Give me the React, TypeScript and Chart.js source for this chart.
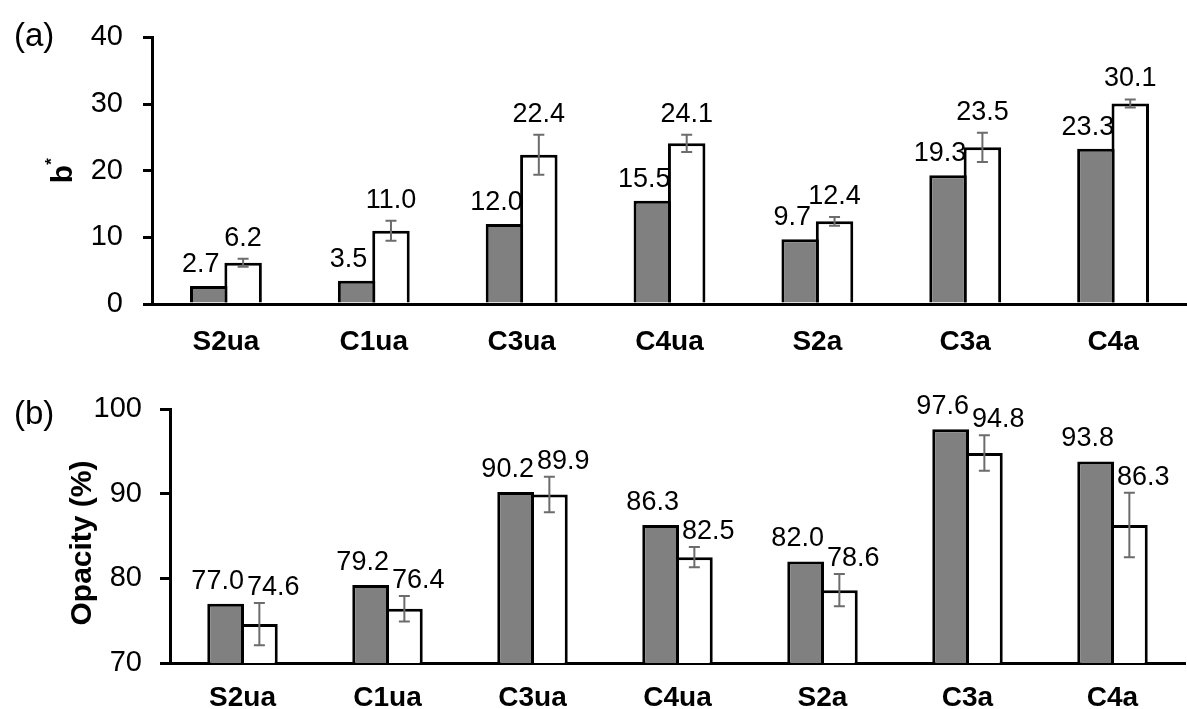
import { useEffect, useRef } from "react";
import { Chart, registerables } from "chart.js";

Chart.register(...registerables);

const FONT = "'Liberation Sans', Arial, sans-serif";

// Sample groups shown on both panels
const categories = ["S2ua", "C1ua", "C3ua", "C4ua", "S2a", "C3a", "C4a"];

// (a) b* colour coordinate
const bGray = [2.7, 3.5, 12.0, 15.5, 9.7, 19.3, 23.3];
const bWhite = [6.2, 11.0, 22.4, 24.1, 12.4, 23.5, 30.1];
const bWhiteErr = [0.6, 1.5, 3.0, 1.3, 0.65, 2.2, 0.6];
const bTicks = [0, 10, 20, 30, 40];

// (b) Opacity (%)
const opGray = [77.0, 79.2, 90.2, 86.3, 82.0, 97.6, 93.8];
const opWhite = [74.6, 76.4, 89.9, 82.5, 78.6, 94.8, 86.3];
const opWhiteErr = [2.5, 1.5, 2.1, 1.2, 1.9, 2.1, 3.8];
const opTicks = [70, 80, 90, 100];

type PanelProps = {
  width: number;
  height: number;
  letter: string;
  letterY: number;
  title: string;
  titleSup?: string;
  titleX: number;
  titleDy: number;
  gray: number[];
  white: number[];
  whiteErr: number[];
  ticks: number[];
  padTop: number;
  padRight: number;
  axisWidth: number;
  xAxisHeight: number;
  tickLen: number;
  tickPad: number;
  labelPad: number;
  grayShift: number;
  whiteShift: number;
  grayGap: number;
  whiteGap: number;
};

function Panel(p: PanelProps) {
  const ref = useRef<HTMLCanvasElement | null>(null);

  useEffect(() => {
    if (!ref.current) return;

    // error bars on the white series and value labels above every bar
    const decor = {
      id: "barDecor",
      afterDatasetsDraw(chart: any) {
        const ctx = chart.ctx;
        const y = chart.scales.y;
        const gMeta = chart.getDatasetMeta(0);
        const wMeta = chart.getDatasetMeta(1);
        ctx.save();
        ctx.strokeStyle = "#6c6c6c";
        ctx.lineWidth = 2;
        wMeta.data.forEach((bar: any, i: number) => {
          const v = p.white[i];
          const top = y.getPixelForValue(v + p.whiteErr[i]);
          const bot = y.getPixelForValue(v - p.whiteErr[i]);
          const x = bar.x;
          ctx.beginPath();
          ctx.moveTo(x, top);
          ctx.lineTo(x, bot);
          ctx.moveTo(x - 5.5, top);
          ctx.lineTo(x + 5.5, top);
          ctx.moveTo(x - 5.5, bot);
          ctx.lineTo(x + 5.5, bot);
          ctx.stroke();
        });
        ctx.font = `27px ${FONT}`;
        ctx.fillStyle = "#000";
        ctx.textAlign = "center";
        ctx.textBaseline = "alphabetic";
        gMeta.data.forEach((bar: any, i: number) => {
          ctx.fillText(p.gray[i].toFixed(1), bar.x + p.grayShift, bar.y - p.grayGap);
        });
        wMeta.data.forEach((bar: any, i: number) => {
          const v = p.white[i];
          ctx.fillText(
            v.toFixed(1),
            bar.x + p.whiteShift,
            y.getPixelForValue(v + p.whiteErr[i]) - p.whiteGap
          );
        });
        ctx.restore();
      },
      afterDraw(chart: any) {
        const ctx = chart.ctx;
        const area = chart.chartArea;
        ctx.save();
        ctx.fillStyle = "#000";
        ctx.font = `33px ${FONT}`;
        ctx.textAlign = "left";
        ctx.textBaseline = "middle";
        ctx.fillText(p.letter, 14, p.letterY);

        // rotated axis title, optionally with a superscript
        ctx.translate(p.titleX, (area.top + area.bottom) / 2 + p.titleDy);
        ctx.rotate(-Math.PI / 2);
        ctx.textBaseline = "middle";
        ctx.font = `bold 30px ${FONT}`;
        const w = ctx.measureText(p.title).width;
        let supW = 0;
        if (p.titleSup) {
          ctx.font = `bold 17px ${FONT}`;
          supW = ctx.measureText(p.titleSup).width;
        }
        const start = -(w + supW) / 2;
        ctx.font = `bold 30px ${FONT}`;
        ctx.textAlign = "left";
        ctx.fillText(p.title, start, 0);
        if (p.titleSup) {
          ctx.font = `bold 17px ${FONT}`;
          ctx.fillText(p.titleSup, start + w, -12);
        }
        ctx.restore();
      },
    };

    const chart = new Chart(ref.current, {
      type: "bar",
      data: {
        labels: categories,
        datasets: [
          {
            data: p.gray,
            backgroundColor: "#808080",
            borderColor: "#000",
            borderWidth: 3,
            borderSkipped: "bottom",
            categoryPercentage: 0.465,
            barPercentage: 1.09,
          },
          {
            data: p.white,
            backgroundColor: "#fff",
            borderColor: "#000",
            borderWidth: 3,
            borderSkipped: "bottom",
            categoryPercentage: 0.465,
            barPercentage: 1.09,
          },
        ],
      },
      options: {
        responsive: false,
        animation: false,
        layout: { padding: { top: p.padTop, right: p.padRight, left: 0, bottom: 0 } },
        plugins: {
          legend: { display: false },
          tooltip: { enabled: false },
          title: { display: false },
        },
        scales: {
          x: {
            type: "category",
            offset: true,
            grid: { display: false, drawTicks: false },
            border: { display: true, color: "#000", width: 3 },
            ticks: {
              color: "#000",
              padding: p.labelPad,
              font: { family: FONT, size: 28, weight: "bold" },
              maxRotation: 0,
              autoSkip: false,
            },
            afterFit(scale: any) {
              scale.height = p.xAxisHeight;
            },
          },
          y: {
            min: p.ticks[0],
            max: p.ticks[p.ticks.length - 1],
            afterBuildTicks(scale: any) {
              scale.ticks = p.ticks.map((v) => ({ value: v }));
            },
            grid: {
              drawOnChartArea: false,
              drawTicks: true,
              tickLength: p.tickLen,
              color: "#000",
              lineWidth: 3,
            },
            border: { display: true, color: "#000", width: 3 },
            ticks: {
              color: "#000",
              padding: p.tickPad,
              font: { family: FONT, size: 29 },
            },
            afterFit(scale: any) {
              scale.width = p.axisWidth;
            },
          },
        },
      },
      plugins: [decor],
    } as any);

    return () => chart.destroy();
  }, []);

  return (
    <canvas
      ref={ref}
      width={p.width}
      height={p.height}
      style={{ display: "block", width: p.width, height: p.height }}
    />
  );
}

export default function App() {
  return (
    <div style={{ position: "absolute", left: 0, top: 0, width: 1187, height: 709, background: "#fff" }}>
      <Panel
        width={1187}
        height={360}
        letter="(a)"
        letterY={37}
        title="b"
        titleSup="*"
        titleX={64}
        titleDy={0}
        gray={bGray}
        white={bWhite}
        whiteErr={bWhiteErr}
        ticks={bTicks}
        padTop={33}
        padRight={0}
        axisWidth={152}
        xAxisHeight={56}
        tickLen={9}
        tickPad={20}
        labelPad={21}
        grayShift={-8}
        whiteShift={0}
        grayGap={14}
        whiteGap={13}
      />
      <Panel
        width={1187}
        height={349}
        letter="(b)"
        letterY={55}
        title="Opacity (%)"
        titleX={83}
        titleDy={7}
        gray={opGray}
        white={opWhite}
        whiteErr={opWhiteErr}
        ticks={opTicks}
        padTop={49}
        padRight={2}
        axisWidth={170}
        xAxisHeight={46}
        tickLen={10}
        tickPad={18}
        labelPad={18}
        grayShift={-8}
        whiteShift={14}
        grayGap={15}
        whiteGap={8}
      />
    </div>
  );
}
